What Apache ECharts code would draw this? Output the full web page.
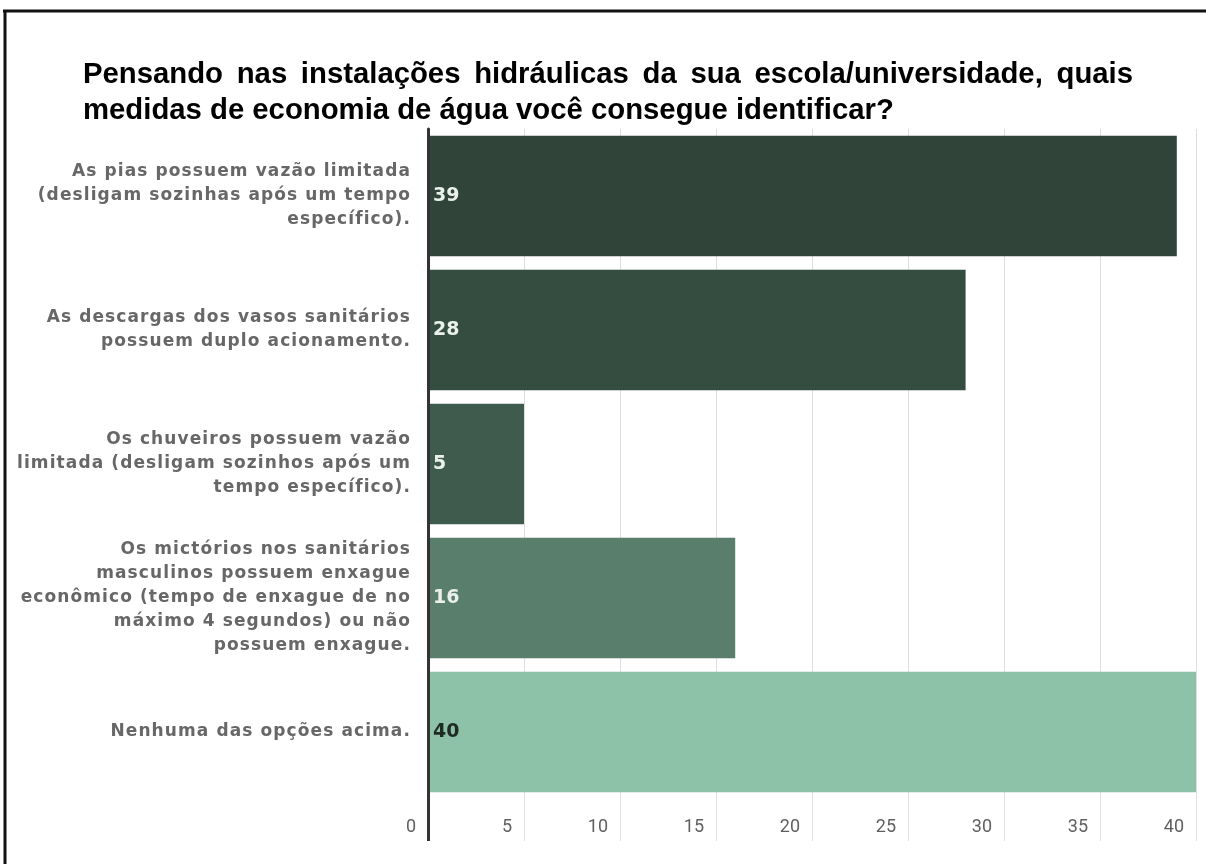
<!DOCTYPE html>
<html>
<head>
<meta charset="utf-8">
<script src="https://cdn.jsdelivr.net/npm/echarts@6/dist/echarts.min.js"></script>
<style>
  html, body { margin: 0; padding: 0; background: #ffffff; }
  #chart { width: 1206px; height: 864px; }
</style>
</head>
<body>
<div id="chart"></div>
<script>
// Survey question (two lines, first one justified)
const titleLines = [
  'Pensando nas instalações hidráulicas da sua escola/universidade, quais',
  'medidas de economia de água você consegue identificar?'
];

// Answer options, wrapped as they are printed beside the bars
const categories = [
  'As pias possuem vazão limitada\n(desligam sozinhas após um tempo\nespecífico).',
  'As descargas dos vasos sanitários\npossuem duplo acionamento.',
  'Os chuveiros possuem vazão\nlimitada (desligam sozinhos após um\ntempo específico).',
  'Os mictórios nos sanitários\nmasculinos possuem enxague\neconômico (tempo de enxague de no\nmáximo 4 segundos) ou não\npossuem enxague.',
  'Nenhuma das opções acima.'
];

// Number of responses per option
const counts = [39, 28, 5, 16, 40];

// Value axis range and step
const axisMin = 0;
const axisMax = 40;
const axisStep = 5;

// Bar fills and the colour of the count printed inside each bar
const barColors = ['#30443a', '#354d41', '#3f5b4d', '#5a7e6c', '#8dc2a8'];
const countColors = ['#eaf1ec', '#eaf1ec', '#eaf1ec', '#eaf1ec', '#1f2a23'];

// Option labels are set with a little tracking; canvas text gets it through
// the context's letterSpacing, applied to both measuring and drawing.
const LABEL_FAMILY = 'DejaVu Sans';
const LABEL_SIZE = 17;
const LABEL_TRACKING = '1.1px';
(function () {
  const proto = CanvasRenderingContext2D.prototype;
  if (!('letterSpacing' in proto)) return;
  const fill = proto.fillText;
  const measure = proto.measureText;
  function track(ctx) {
    const f = ctx.font || '';
    ctx.letterSpacing = (f.indexOf(LABEL_FAMILY) >= 0 && f.indexOf(LABEL_SIZE + 'px') >= 0) ? LABEL_TRACKING : '0px';
  }
  proto.fillText = function () { track(this); return fill.apply(this, arguments); };
  proto.measureText = function () { track(this); return measure.apply(this, arguments); };
})();

const chart = echarts.init(document.getElementById('chart'), null, { renderer: 'canvas' });

// Lay out the title words; the first line is spread to the full text width
const titleFontSize = 29.3;
const titleFamily = '"Liberation Sans", Arial, sans-serif';
const measureCtx = document.createElement('canvas').getContext('2d');
measureCtx.font = 'bold ' + titleFontSize + 'px ' + titleFamily;

function titleLine(text, justifyWidth, x, y) {
  const words = text.split(' ');
  const widths = words.map(w => measureCtx.measureText(w).width);
  const spaceW = measureCtx.measureText(' ').width;
  const used = widths.reduce((a, b) => a + b, 0);
  const gap = justifyWidth ? (justifyWidth - used) / (words.length - 1) : spaceW;
  let cx = 0;
  const children = words.map((w, i) => {
    const el = {
      type: 'text',
      x: cx,
      y: 0,
      style: {
        text: w,
        fill: '#000000',
        fontSize: titleFontSize,
        fontWeight: 'bold',
        fontFamily: titleFamily,
        verticalAlign: 'middle',
        align: 'left'
      }
    };
    cx += widths[i] + gap;
    return el;
  });
  return { type: 'group', x: x, y: y, children: children };
}

const option = {
  backgroundColor: '#ffffff',
  animation: false,
  graphic: [
    // page frame (top and left edges)
    { type: 'line', shape: { x1: 3, y1: 11, x2: 1206, y2: 11 }, style: { stroke: '#111', lineWidth: 3 } },
    { type: 'line', shape: { x1: 5, y1: 10, x2: 5, y2: 864 }, style: { stroke: '#111', lineWidth: 3 } },
    titleLine(titleLines[0], 1050, 83, 75),
    titleLine(titleLines[1], 0, 83, 111)
  ],
  grid: {
    left: 428,
    right: 10,
    top: 129,
    bottom: 65,
    containLabel: false
  },
  xAxis: [
    {
      type: 'value',
      min: axisMin,
      max: axisMax,
      interval: axisStep,
      position: 'bottom',
      axisLine: { show: false },
      axisTick: { show: true, length: 42, lineStyle: { color: '#e2e2e2', width: 1 } },
      splitLine: { show: true, lineStyle: { color: '#dddddd', width: 1 } },
      axisLabel: {
        color: '#5f5f5f',
        fontSize: 18,
        fontFamily: 'Roboto, sans-serif',
        align: 'right',
        padding: [0, 12, 0, 0],
        margin: 19
      }
    },
    {
      // dark continuation of the category axis line below the plot
      type: 'value',
      min: axisMin,
      max: axisMax,
      interval: axisStep,
      position: 'bottom',
      axisLine: { show: false },
      axisLabel: { show: false },
      splitLine: { show: false },
      axisTick: { show: true, customValues: [axisMin], length: 42, lineStyle: { color: '#333333', width: 3 } }
    }
  ],
  yAxis: {
    type: 'category',
    inverse: true,
    data: categories,
    axisLine: { show: true, lineStyle: { color: '#333333', width: 3 } },
    axisTick: { show: false },
    splitLine: { show: false },
    axisLabel: {
      color: '#676767',
      fontSize: LABEL_SIZE,
      fontWeight: 'bold',
      lineHeight: 24,
      fontFamily: '"' + LABEL_FAMILY + '", sans-serif',
      align: 'right',
      margin: 17
    },
    z: 5
  },
  series: [
    {
      type: 'bar',
      xAxisIndex: 0,
      barCategoryGap: '10%',
      data: counts.map((v, i) => ({
        value: v,
        itemStyle: { color: barColors[i] },
        label: { color: countColors[i] }
      })),
      label: {
        show: true,
        position: 'insideLeft',
        distance: 5,
        fontSize: 19,
        fontWeight: 'bold',
        fontFamily: '"DejaVu Sans", sans-serif'
      },
      z: 2
    }
  ]
};

chart.setOption(option);
</script>
</body>
</html>
